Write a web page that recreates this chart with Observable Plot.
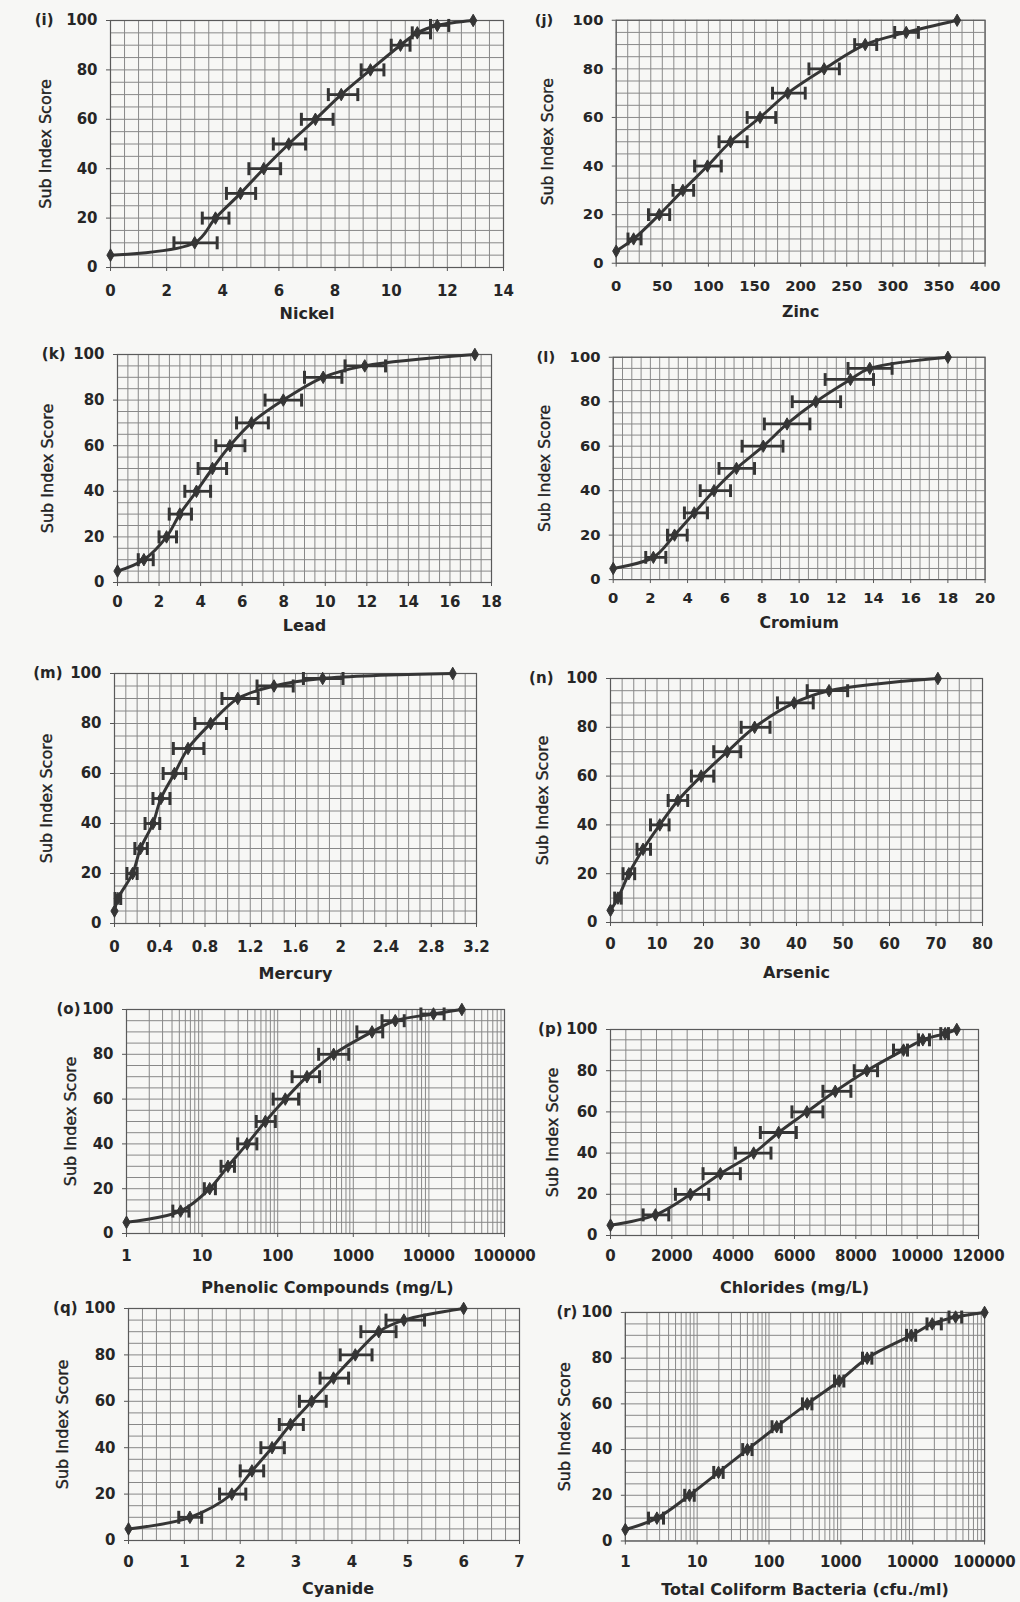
<!DOCTYPE html>
<html>
<head>
<meta charset="utf-8">
<script src="https://cdn.jsdelivr.net/npm/d3@7"></script>
<script src="https://cdn.jsdelivr.net/npm/@observablehq/plot@0.6"></script>
<style>
  html, body { margin: 0; padding: 0; background: #f7f7f5; }
  #page { position: relative; width: 1020px; height: 1602px; overflow: hidden; }
  #page > div { position: absolute; }
  svg { overflow: visible; }
</style>
</head>
<body>
<div id="page"></div>
<script>
// ---------- data ----------
const yTicks = [0, 20, 40, 60, 80, 100];

const nickelScore = [5, 10, 20, 30, 40, 50, 60, 70, 80, 90, 95, 98, 100];
const nickelValue = [0, 3.0, 3.74, 4.63, 5.46, 6.35, 7.3, 8.22, 9.26, 10.33, 10.93, 11.64, 12.92];
const nickelLow   = [null, 2.26, 3.27, 4.13, 4.93, 5.8, 6.8, 7.76, 8.93, 10.0, 10.75, 11.4, null];
const nickelHigh  = [null, 3.8, 4.22, 5.17, 6.06, 6.95, 7.93, 8.81, 9.74, 10.67, 11.4, 12.05, null];
const nickelTicks = [0, 2, 4, 6, 8, 10, 12, 14];

const zincScore = [5, 10, 20, 30, 40, 50, 60, 70, 80, 90, 95, 100];
const zincValue = [0, 18.9, 46.7, 72.3, 99, 124, 156, 186, 225.5, 270, 314.5, 369.7];
const zincLow   = [null, 12.8, 35, 61.6, 85, 111.5, 142, 169.5, 209, 258.6, 302, null];
const zincHigh  = [null, 27, 58, 84, 114, 142, 173, 205, 242, 282.5, 327.7, null];
const zincTicks = [0, 50, 100, 150, 200, 250, 300, 350, 400];

const leadScore = [5, 10, 20, 30, 40, 50, 60, 70, 80, 90, 95, 100];
const leadValue = [0, 1.27, 2.36, 3.0, 3.8, 4.57, 5.41, 6.45, 7.98, 9.9, 11.9, 17.2];
const leadLow   = [null, 1.0, 2.0, 2.49, 3.24, 3.88, 4.73, 5.73, 7.1, 9.0, 10.95, null];
const leadHigh  = [null, 1.72, 2.84, 3.56, 4.48, 5.25, 6.13, 7.26, 8.86, 10.8, 12.9, null];
const leadTicks = [0, 2, 4, 6, 8, 10, 12, 14, 16, 18];

const cromiumScore = [5, 10, 20, 30, 40, 50, 60, 70, 80, 90, 95, 100];
const cromiumValue = [0, 2.16, 3.3, 4.36, 5.42, 6.63, 8.07, 9.35, 10.9, 12.76, 13.8, 18.0];
const cromiumLow   = [null, 1.75, 2.92, 3.83, 4.68, 5.69, 6.93, 8.13, 9.63, 11.4, 12.63, null];
const cromiumHigh  = [null, 2.83, 3.98, 5.07, 6.31, 7.6, 9.13, 10.58, 12.23, 14.0, 15.0, null];
const cromiumTicks = [0, 2, 4, 6, 8, 10, 12, 14, 16, 18, 20];

const mercuryScore = [5, 10, 20, 30, 40, 50, 60, 70, 80, 90, 95, 98, 100];
const mercuryValue = [0, 0.03, 0.16, 0.23, 0.34, 0.41, 0.53, 0.65, 0.85, 1.09, 1.41, 1.84, 2.99];
const mercuryLow   = [null, 0.005, 0.11, 0.18, 0.27, 0.34, 0.43, 0.52, 0.71, 0.95, 1.26, 1.67, null];
const mercuryHigh  = [null, 0.055, 0.2, 0.29, 0.4, 0.49, 0.63, 0.79, 0.99, 1.27, 1.58, 2.02, null];
const mercuryTicks = [0, 0.4, 0.8, 1.2, 1.6, 2, 2.4, 2.8, 3.2];

const arsenicScore = [5, 10, 20, 30, 40, 50, 60, 70, 80, 90, 95, 100];
const arsenicValue = [0, 1.6, 3.95, 7.0, 10.6, 14.5, 19.5, 25.1, 31, 39.5, 47, 70.4];
const arsenicLow   = [null, 0.9, 2.7, 5.7, 8.6, 12.4, 17.4, 22.2, 28.1, 35.9, 42.3, null];
const arsenicHigh  = [null, 2.3, 5.2, 8.6, 12.6, 16.6, 22.2, 28, 34.3, 43.6, 51, null];
const arsenicTicks = [0, 10, 20, 30, 40, 50, 60, 70, 80];

const phenolicScore = [5, 10, 20, 30, 40, 50, 60, 70, 80, 90, 95, 98, 100];
const phenolicValue = [1, 5.2, 12.6, 22, 39.3, 68.7, 126, 244, 550, 1770, 3590, 11500, 27300];
const phenolicLow   = [null, 4.1, 10.7, 17.8, 29.6, 52, 87, 155, 348, 1115, 2400, 7840, null];
const phenolicHigh  = [null, 6.7, 15, 26.8, 53, 93, 189, 358, 870, 2450, 4720, 15900, null];
const phenolicTicks = [1, 10, 100, 1000, 10000, 100000];

const chloridesScore = [5, 10, 20, 30, 40, 50, 60, 70, 80, 90, 95, 98, 100];
const chloridesValue = [0, 1466, 2606, 3583, 4669, 5483, 6406, 7329, 8360, 9555, 10185, 10912, 11292];
const chloridesLow   = [null, 1064, 2117, 3018, 4072, 4886, 5917, 6927, 7948, 9229, 10043, 10770, null];
const chloridesHigh  = [null, 1900, 3203, 4234, 5233, 6059, 6927, 7839, 8708, 9685, 10401, 11020, null];
const chloridesTicks = [0, 2000, 4000, 6000, 8000, 10000, 12000];

const cyanideScore = [5, 10, 20, 30, 40, 50, 60, 70, 80, 90, 95, 100];
const cyanideValue = [0, 1.1, 1.85, 2.21, 2.57, 2.9, 3.28, 3.67, 4.06, 4.48, 4.93, 6.0];
const cyanideLow   = [null, 0.9, 1.63, 2.0, 2.37, 2.7, 3.06, 3.43, 3.79, 4.16, 4.61, null];
const cyanideHigh  = [null, 1.31, 2.1, 2.42, 2.79, 3.13, 3.54, 3.94, 4.36, 4.79, 5.3, null];
const cyanideTicks = [0, 1, 2, 3, 4, 5, 6, 7];

const coliformScore = [5, 10, 20, 30, 40, 50, 60, 70, 80, 90, 95, 98, 100];
const coliformValue = [1, 2.75, 7.8, 19.8, 50, 128, 340, 948, 2323, 9550, 18700, 39500, 100000];
const coliformLow   = [null, 2.1, 6.7, 17, 43, 110, 292, 815, 2000, 8200, 15800, 32000, null];
const coliformHigh  = [null, 3.4, 9.1, 23, 58, 148, 395, 1100, 2700, 11000, 25000, 48000, null];
const coliformTicks = [1, 10, 100, 1000, 10000, 100000];

// ---------- panel definitions ----------
const panels = [
  {tag: "(i)", title: "Nickel", score: nickelScore, value: nickelValue, low: nickelLow, high: nickelHigh, ticks: nickelTicks, type: "linear", step: 0.5,
   x0: 110, x1: 503, y0: 20, y1: 267, tagDx: 57, ylabDx: 65, tickOff: 25, titleOff: 46, titleDx: 0},
  {tag: "(j)", title: "Zinc", score: zincScore, value: zincValue, low: zincLow, high: zincHigh, ticks: zincTicks, type: "linear", step: 12.5,
   x0: 617, x1: 992, y0: 20, y1: 267, tagDx: 64, ylabDx: 69, tickOff: 25, titleOff: 50, titleDx: 0},
  {tag: "(k)", title: "Lead", score: leadScore, value: leadValue, low: leadLow, high: leadHigh, ticks: leadTicks, type: "linear", step: 0.5,
   x0: 117, x1: 491, y0: 354, y1: 582, tagDx: 52, ylabDx: 70, tickOff: 21, titleOff: 43, titleDx: 0},
  {tag: "(l)", title: "Cromium", score: cromiumScore, value: cromiumValue, low: cromiumLow, high: cromiumHigh, ticks: cromiumTicks, type: "linear", step: 0.5,
   x0: 614, x1: 992, y0: 357, y1: 583, tagDx: 59, ylabDx: 69, tickOff: 20, titleOff: 44, titleDx: 0},
  {tag: "(m)", title: "Mercury", score: mercuryScore, value: mercuryValue, low: mercuryLow, high: mercuryHigh, ticks: mercuryTicks, type: "linear", step: 0.1,
   x0: 114, x1: 476, y0: 673, y1: 923, tagDx: 52, ylabDx: 68, tickOff: 25, titleOff: 50, titleDx: 0},
  {tag: "(n)", title: "Arsenic", score: arsenicScore, value: arsenicValue, low: arsenicLow, high: arsenicHigh, ticks: arsenicTicks, type: "linear", step: 2.5,
   x0: 610, x1: 982, y0: 678, y1: 922, tagDx: 57, ylabDx: 68, tickOff: 23, titleOff: 50, titleDx: 0},
  {tag: "(o)", title: "Phenolic Compounds (mg/L)", score: phenolicScore, value: phenolicValue, low: phenolicLow, high: phenolicHigh, ticks: phenolicTicks, type: "log",
   x0: 126, x1: 504, y0: 1009, y1: 1233, tagDx: 46, ylabDx: 56, tickOff: 24, titleOff: 54, titleDx: 12},
  {tag: "(p)", title: "Chlorides (mg/L)", score: chloridesScore, value: chloridesValue, low: chloridesLow, high: chloridesHigh, ticks: chloridesTicks, type: "linear", step: 500,
   x0: 610, x1: 978, y0: 1029, y1: 1235, tagDx: 48, ylabDx: 58, tickOff: 22, titleOff: 52, titleDx: 0},
  {tag: "(q)", title: "Cyanide", score: cyanideScore, value: cyanideValue, low: cyanideLow, high: cyanideHigh, ticks: cyanideTicks, type: "linear", step: 0.25,
   x0: 128, x1: 519, y0: 1308, y1: 1540, tagDx: 51, ylabDx: 66, tickOff: 23, titleOff: 48, titleDx: 14},
  {tag: "(r)", title: "Total Coliform Bacteria (cfu./ml)", score: coliformScore, value: coliformValue, low: coliformLow, high: coliformHigh, ticks: coliformTicks, type: "log",
   x0: 625, x1: 985, y0: 1312, y1: 1541, tagDx: 48, ylabDx: 61, tickOff: 22, titleOff: 49, titleDx: 0}
];

const INK = "#353535";
const GRID = "#888888";
const FONT = "'DejaVu Sans', 'Liberation Sans', sans-serif";

// vertical cap symbol for the horizontal error bars
const vbar = {
  draw(context, size) {
    const r = Math.sqrt(size / Math.PI);
    context.moveTo(0, -r);
    context.lineTo(0, r);
  }
};

function gridValues(p) {
  const lo = p.ticks[0], hi = p.ticks[p.ticks.length - 1];
  if (p.type === "log") {
    const out = [];
    for (let e = Math.log10(lo); e < Math.log10(hi); e++) {
      for (let m = 1; m < 10; m++) out.push(m * Math.pow(10, e));
    }
    out.push(hi);
    return out;
  }
  const n = Math.round((hi - lo) / p.step);
  return d3.range(n + 1).map(i => lo + i * p.step);
}

const page = document.getElementById("page");
const mL = 80, mR = 36, mT = 14, mB = 64;

for (const p of panels) {
  const rows = p.score.map((s, i) => ({score: s, value: p.value[i], low: p.low[i], high: p.high[i]}));
  const bars = rows.filter(d => d.low != null && d.high != null);
  const domain = [p.ticks[0], p.ticks[p.ticks.length - 1]];
  const fmt = p.type === "log" ? (d => String(d)) : (d => String(+d.toFixed(2)));

  const chart = Plot.plot({
    width: p.x1 - p.x0 + mL + mR,
    height: p.y1 - p.y0 + mT + mB,
    marginLeft: mL, marginRight: mR, marginTop: mT, marginBottom: mB,
    style: {fontFamily: FONT, fontSize: "15px", fontWeight: "bold", color: "#262626", background: "none", overflow: "visible"},
    x: {type: p.type, domain, nice: false},
    y: {domain: [0, 100], nice: false},
    marks: [
      Plot.gridX(gridValues(p), {stroke: GRID, strokeOpacity: 1, strokeWidth: 1}),
      Plot.gridY(d3.range(0, 101, 5), {stroke: GRID, strokeOpacity: 1, strokeWidth: 1}),
      Plot.frame({stroke: "#5a5a5a", strokeWidth: 1.2}),
      Plot.axisX(p.ticks, {tickSize: 4, tickPadding: p.tickOff - 11, tickFormat: fmt, label: null, fontSize: 15, fontWeight: "bold", stroke: "#555"}),
      Plot.axisY(yTicks, {tickSize: 4, tickPadding: 9, label: null, fontSize: 15, fontWeight: "bold", stroke: "#555"}),
      Plot.ruleY(bars, {y: "score", x1: "low", x2: "high", stroke: INK, strokeWidth: 2.8}),
      Plot.dot(bars, {x: "low", y: "score", symbol: vbar, r: 6.5, stroke: INK, strokeWidth: 3, fill: "none"}),
      Plot.dot(bars, {x: "high", y: "score", symbol: vbar, r: 6.5, stroke: INK, strokeWidth: 3, fill: "none"}),
      Plot.line(rows, {x: "value", y: "score", curve: "catmull-rom", stroke: INK, strokeWidth: 3}),
      Plot.dot(rows, {x: "value", y: "score", symbol: "diamond", r: 3.8, fill: INK, stroke: INK, strokeWidth: 1}),
      Plot.text([p.tag], {text: d => d, frameAnchor: "top-left", dx: -p.tagDx, textAnchor: "end", lineAnchor: "middle", fontSize: 15, fontWeight: "bold", fill: "#262626"}),
      Plot.text(["Sub Index Score"], {text: d => d, frameAnchor: "left", rotate: -90, dx: -p.ylabDx, textAnchor: "middle", lineAnchor: "middle", fontSize: 16, fontWeight: "normal", fill: "#222", stroke: "#222", strokeWidth: 0.35}),
      Plot.text([p.title], {text: d => d, frameAnchor: "bottom", dy: p.titleOff, dx: p.titleDx, textAnchor: "middle", lineAnchor: "middle", fontSize: 16, fontWeight: "bold", fill: "#262626"})
    ]
  });

  const holder = document.createElement("div");
  holder.style.left = (p.x0 - mL) + "px";
  holder.style.top = (p.y0 - mT) + "px";
  holder.appendChild(chart);
  page.appendChild(holder);
}
</script>
</body>
</html>
